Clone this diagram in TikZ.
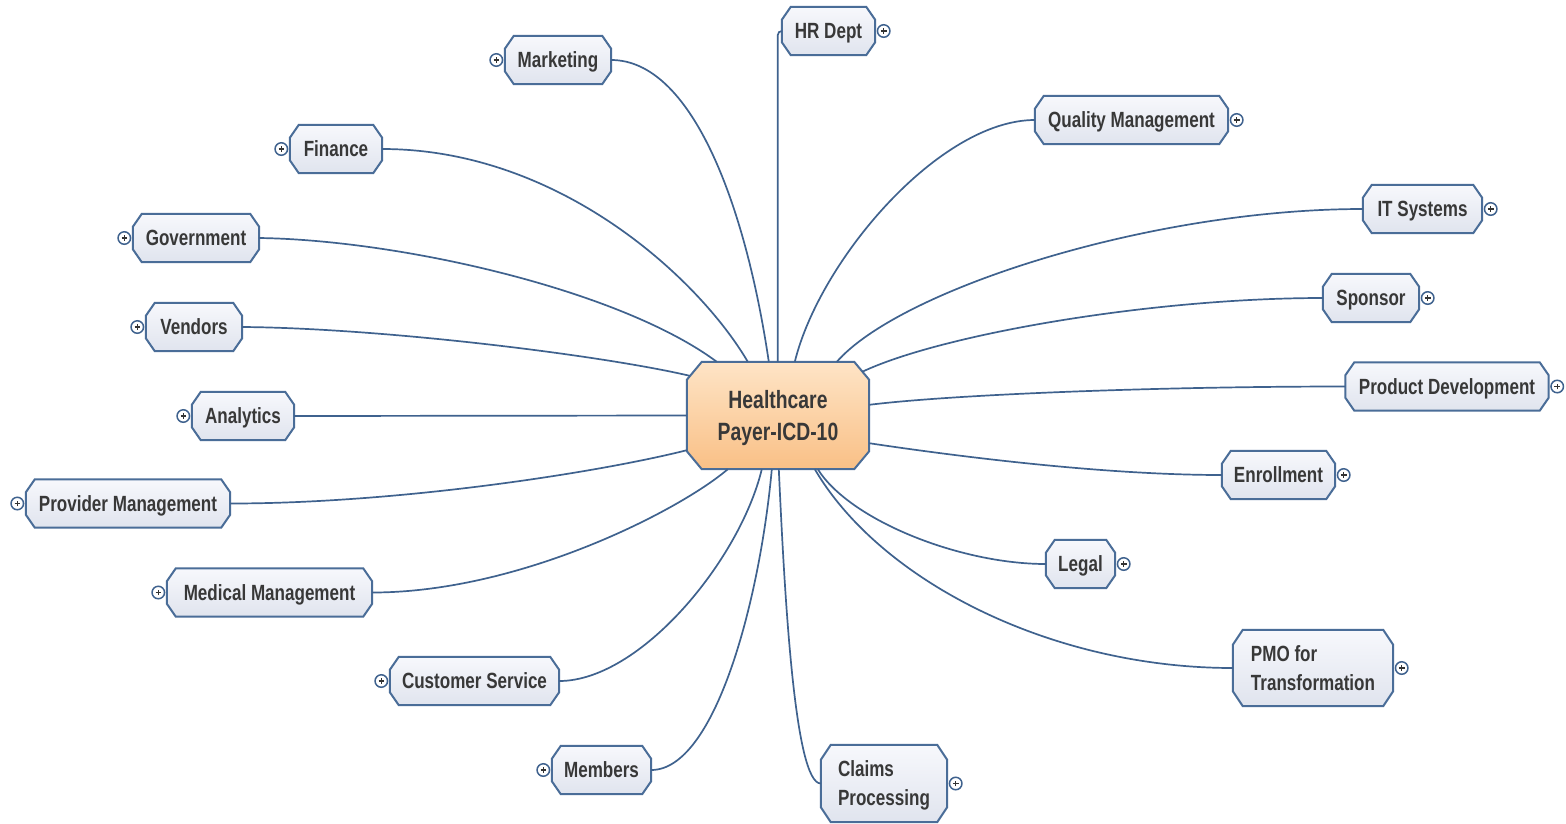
\documentclass[tikz,border=0pt]{standalone}
\usepackage{fontspec}
\setmainfont{Liberation Sans}[FakeStretch=0.775]
\usetikzlibrary{calc}
\definecolor{lineblue}{HTML}{3F628E}
\definecolor{boxborder}{HTML}{4A6D98}
\definecolor{boxtop}{HTML}{F7F8FC}
\definecolor{boxbot}{HTML}{E0E4EE}
\definecolor{ctop}{HTML}{FEE4C6}
\definecolor{cbot}{HTML}{F9C086}
\definecolor{txt}{HTML}{383838}
\pgfdeclarelayer{back}
\pgfdeclarelayer{bg}
\pgfsetlayers{back,bg,main}
\newcommand\chamfbox[4][boxline]{%
  \path[#1] ($(#2.north west)+(#3,0)$) -- ($(#2.north east)+(-#3,0)$) --
    ($(#2.north east)+(0,#4)$) -- ($(#2.south east)+(0,-#4)$) --
    ($(#2.south east)+(-#3,0)$) -- ($(#2.south west)+(#3,0)$) --
    ($(#2.south west)+(0,-#4)$) -- ($(#2.north west)+(0,#4)$) -- cycle;}
\begin{document}
\begin{tikzpicture}[x=1pt,y=-1pt,
  topic/.style={inner sep=0pt, minimum height=48pt, text=txt,
    font=\bfseries\fontsize{22}{29}\selectfont, text height=15.8pt, text depth=0pt},
  topictwo/.style={inner sep=0pt, text=txt, align=left,
    font=\bfseries\fontsize{22}{29}\selectfont},
  conn/.style={draw=lineblue, line width=1.7pt},
  boxline/.style={draw=boxborder, line width=2pt, top color=boxtop, bottom color=boxbot},
  centerline/.style={draw=boxborder, line width=2pt, top color=ctop, bottom color=cbot},
  expander/.style={circle, draw=lineblue, fill=white, line width=1.5pt,
    minimum size=12.5pt, inner sep=0pt,
    path picture={\draw[line width=1.4pt, black!80]
      (path picture bounding box.center) +(-2.8pt,0) -- +(2.8pt,0)
      (path picture bounding box.center) +(0,-2.8pt) -- +(0,2.8pt);}}
]
\begin{pgfonlayer}{back}
\fill[white] (0,0) rectangle (1566,823);
\end{pgfonlayer}
\useasboundingbox (0,0) rectangle (1566,823);

% center
\node[inner sep=0pt, minimum width=182pt, minimum height=107pt, text=txt,
  font=\bfseries\fontsize{25}{32}\selectfont, align=center] (c) at (778,415.5)
  {Healthcare\\\smash{Payer-ICD-10}};

% left topics
\node[topic, minimum width=106pt] (mk) at (558,60) {Marketing};
\node[topic, minimum width=92pt]  (fi) at (336,149) {Finance};
\node[topic, minimum width=126pt] (go) at (196,238) {Government};
\node[topic, minimum width=96pt]  (ve) at (194,327) {Vendors};
\node[topic, minimum width=102pt] (an) at (243,416) {Analytics};
\node[topic, minimum width=204pt] (pm) at (128,503.5) {Provider Management};
\node[topic, minimum width=205pt] (mm) at (269.5,592.5) {Medical Management};
\node[topic, minimum width=169pt] (cs) at (474.5,681) {Customer Service};
\node[topic, minimum width=99pt]  (me) at (601.5,770) {Members};

% right topics
\node[topic, minimum width=93pt]  (hr) at (828.5,31) {HR Dept};
\node[topic, minimum width=193pt] (qm) at (1131.5,120) {Quality Management};
\node[topic, minimum width=119pt] (it) at (1422.5,209) {IT Systems};
\node[topic, minimum width=96pt]  (sp) at (1371,298) {Sponsor};
\node[topic, minimum width=203pt] (pd) at (1447,386.5) {Product Development};
\node[topic, minimum width=113pt] (en) at (1278.5,475) {Enrollment};
\node[topic, minimum width=69pt]  (lg) at (1080.5,564) {Legal};
\node[topictwo, minimum width=160pt, minimum height=76pt] (pmo) at (1313,668)
  {PMO for\\\smash{Transformation}};
\node[topictwo, minimum width=126pt, minimum height=77pt] (cp) at (884,783.5)
  {Claims\\\smash{Processing}};

% box outlines
\begin{pgfonlayer}{bg}
\chamfbox[centerline]{c}{15}{18}
\foreach \n in {mk,fi,go,ve,an,pm,mm,cs,me,hr,qm,it,sp,pd,en,lg}
  {\chamfbox{\n}{9}{13}}
\chamfbox{pmo}{10}{15}
\chamfbox{cp}{10}{15}
\end{pgfonlayer}

% expanders
\foreach \n in {mk,fi,go,ve,an,pm,mm,cs,me}
  {\node[expander] (\n-x) at ($(\n.west)+(-8.5,0)$) {};}
\foreach \n in {hr,qm,it,sp,pd,en,lg,pmo,cp}
  {\node[expander] (\n-x) at ($(\n.east)+(8.5,0)$) {};}

% connectors, left side
\draw[conn] (mk.east) .. controls +(79,0) and +(-24,-162) .. ($(c.north west)+(82,0)$);
\draw[conn] (fi.east) .. controls +(178,0) and +(-48,-82) .. ($(c.north west)+(61,0)$);
\draw[conn] (go.east) .. controls +(141,2) and +(-97,-72) .. ($(c.north west)+(30,0)$);
\draw[conn] (ve.east) .. controls +(138,1) and +(-90,-21) .. ($(c.north west)+(3,14)$);
\draw[conn] (an.east) -- (c.west);
\draw[conn] (pm.east) .. controls +(170,0) and +(-87,22) .. ($(c.south west)+(0,-19)$);
\draw[conn] (mm.east) .. controls +(148,0) and +(-48,41) .. ($(c.south west)+(41,0)$);
\draw[conn] (cs.east) .. controls +(81,0) and +(-22,91) .. ($(c.south west)+(75,0)$);
\draw[conn] (me.east) .. controls +(64,0) and +(-12,131) .. ($(c.south west)+(85,0)$);
% connectors, right side
\draw[conn, rounded corners=4pt] (hr.west) -| ($(c.north west)+(91,0)$);
\draw[conn] (qm.west) .. controls +(-95,0) and +(25,-102) .. ($(c.north west)+(108,0)$);
\draw[conn] (it.west) .. controls +(-213,0) and +(63,-72) .. ($(c.north west)+(150,0)$);
\draw[conn] (sp.west) .. controls +(-173,0) and +(78,-37) .. ($(c.north east)+(-7,10)$);
\draw[conn] (pd.west) .. controls +(-195,0) and +(81,-10) .. ($(c.north east)+(0,43)$);
\draw[conn] (en.west) .. controls +(-122,0) and +(80,12) .. ($(c.south east)+(0,-26)$);
\draw[conn] (lg.west) .. controls +(-86,0) and +(32,51) .. ($(c.south west)+(131,0)$);
\draw[conn] (pmo.west) .. controls +(-183,0) and +(65,111) .. ($(c.south west)+(128,0)$);
\draw[conn] (cp.west) .. controls +(-26,0) and +(6,131) .. ($(c.south west)+(92,0)$);
\end{tikzpicture}
\end{document}
